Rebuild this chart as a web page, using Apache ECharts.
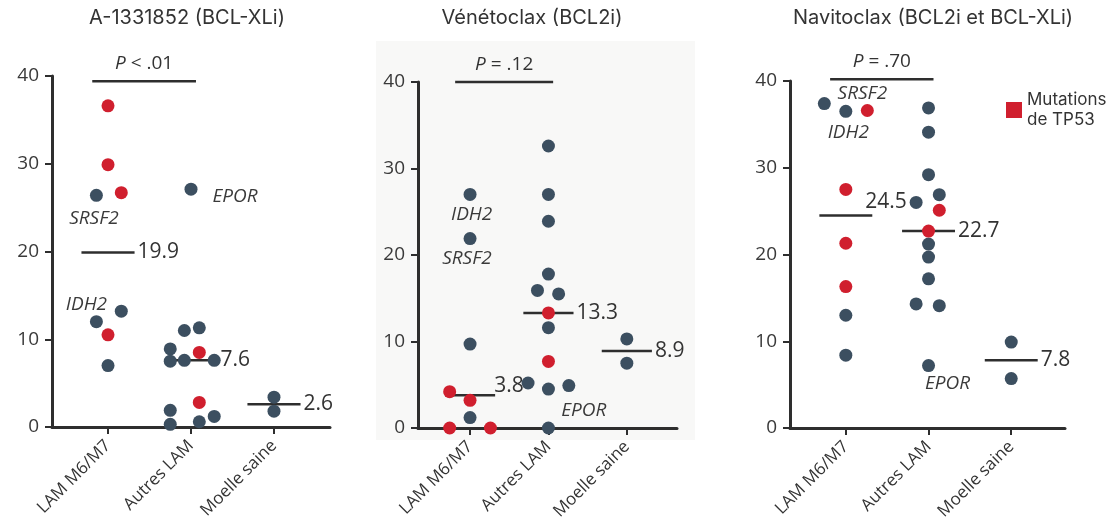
<!DOCTYPE html>
<html><head><meta charset="utf-8">
<script src="https://cdn.jsdelivr.net/npm/echarts@6/dist/echarts.min.js"></script>
<style>html,body{margin:0;padding:0;background:#fff}#c{width:1120px;height:528px}</style>
</head><body><div id="c"></div>
<script>
// ---------- DATA ----------
const categories = ['LAM M6/M7', 'Autres LAM', 'Moelle saine'];
const panelTitles = ['A-1331852 (BCL-XLi)', 'Vénétoclax (BCL2i)', 'Navitoclax (BCL2i et BCL-XLi)'];
const legendName = 'Mutations de TP53';

// Panel 1 : A-1331852  (wt = sans mutation TP53, mut = mutation TP53)
const a133_wt_cat = [0, 0, 0, 0, 1, 1, 1, 1, 1, 1, 1, 1, 1, 1, 1, 2, 2];
const a133_wt_val = [26.4, 13.2, 12.0, 7.0, 27.1, 11.0, 11.3, 8.9, 7.5, 7.6, 7.6, 1.9, 0.3, 0.6, 1.2, 3.4, 1.8];
const a133_wt_jit = [-0.14, 0.16, -0.14, 0, 0, -0.08, 0.1, -0.25, -0.25, -0.08, 0.28, -0.25, -0.25, 0.1, 0.28, 0, 0];
const a133_mut_cat = [0, 0, 0, 0, 1, 1];
const a133_mut_val = [36.6, 29.9, 26.7, 10.5, 8.5, 2.8];
const a133_mut_jit = [0, 0, 0.16, 0, 0.1, 0.1];
const a133_medians = [19.9, 7.6, 2.6];

// Panel 2 : Vénétoclax
const ven_wt_cat = [0, 0, 0, 0, 1, 1, 1, 1, 1, 1, 1, 1, 1, 1, 1, 2, 2];
const ven_wt_val = [27.0, 21.9, 9.7, 1.2, 32.6, 27.0, 23.9, 17.8, 15.9, 15.5, 11.6, 5.2, 4.5, 4.9, 0.0, 10.3, 7.5];
const ven_wt_jit = [0, 0, 0, 0, 0, 0, 0, 0, -0.14, 0.13, 0, -0.26, 0, 0.26, 0, 0, 0];
const ven_mut_cat = [0, 0, 0, 0, 1, 1];
const ven_mut_val = [4.2, 3.2, 0.0, 0.0, 13.3, 7.7];
const ven_mut_jit = [-0.26, 0, -0.26, 0.26, 0, 0];
const ven_medians = [3.8, 13.3, 8.9];

// Panel 3 : Navitoclax
const nav_wt_cat = [0, 0, 0, 0, 1, 1, 1, 1, 1, 1, 1, 1, 1, 1, 1, 2, 2];
const nav_wt_val = [37.4, 36.5, 13.0, 8.4, 36.9, 34.1, 29.2, 26.9, 26.0, 21.2, 19.7, 17.2, 14.3, 14.1, 7.2, 9.9, 5.7];
const nav_wt_jit = [-0.26, 0, 0, 0, 0, 0, 0, 0.13, -0.15, 0, 0, 0, -0.15, 0.13, 0, 0, 0];
const nav_mut_cat = [0, 0, 0, 0, 1, 1];
const nav_mut_val = [36.6, 27.5, 21.3, 16.3, 25.1, 22.7];
const nav_mut_jit = [0.26, 0, 0, 0, 0.13, 0];
const nav_medians = [24.5, 22.7, 7.8];

// P values (comparison LAM M6/M7 vs Autres LAM)
const pValueText = ['< .01', '= .12', '= .70'];
const pBracketY = [39.4, 40.0, 40.2];

// Gene annotations (text, x in category units, y value)
const a133_genes = ['SRSF2', 'IDH2', 'EPOR'];
const a133_gene_x = [-0.17, -0.26, 1.53];
const a133_gene_y = [23.8, 13.9, 26.3];
const ven_genes = ['IDH2', 'SRSF2', 'EPOR'];
const ven_gene_x = [0.02, -0.04, 1.45];
const ven_gene_y = [24.7, 19.6, 2.0];
const nav_genes = ['SRSF2', 'IDH2', 'EPOR'];
const nav_gene_x = [0.2, 0.03, 1.23];
const nav_gene_y = [38.6, 34.0, 5.1];

// ---------- LAYOUT / STYLE ----------
const BLUE = '#3c4f60', RED = '#d01f2e', INK = '#333333';
const FONT = '"Open Sans", sans-serif';
const TITLE_FONT = 'Inter, "Open Sans", sans-serif';
const grids = [
  {left: 52, top: 76, width: 278, height: 351, xmin: -0.675, xmax: 2.675},
  {left: 418, top: 82, width: 259, height: 346, xmin: -0.664, xmax: 2.64},
  {left: 790, top: 81, width: 275, height: 347, xmin: -0.675, xmax: 2.65}
];
const titleCenters = [187, 532, 933];
const medianHalf = 0.32;
const medianNudge = [[[0,0],[0,0],[0,0]], [[-4,-9],[0,0],[0,0]], [[-10,-13],[0,0],[0,0]]];

const panels = [
  {wt: [a133_wt_cat, a133_wt_val, a133_wt_jit], mut: [a133_mut_cat, a133_mut_val, a133_mut_jit], med: a133_medians, genes: [a133_genes, a133_gene_x, a133_gene_y]},
  {wt: [ven_wt_cat, ven_wt_val, ven_wt_jit], mut: [ven_mut_cat, ven_mut_val, ven_mut_jit], med: ven_medians, genes: [ven_genes, ven_gene_x, ven_gene_y]},
  {wt: [nav_wt_cat, nav_wt_val, nav_wt_jit], mut: [nav_mut_cat, nav_mut_val, nav_mut_jit], med: nav_medians, genes: [nav_genes, nav_gene_x, nav_gene_y]}
];

function pts(arr) { return arr[1].map((v, i) => [arr[0][i] + arr[2][i], v]); }

const option = {
  animation: false,
  backgroundColor: '#ffffff',
  textStyle: {fontFamily: FONT},
  legend: {
    data: [legendName], left: 1001, top: 85, icon: 'rect', itemWidth: 16, itemHeight: 16,
    selectedMode: false, formatter: () => 'Mutations\nde TP53',
    textStyle: {fontSize: 17, color: INK, fontFamily: TITLE_FONT, lineHeight: 20}
  },
  grid: grids.map(g => ({left: g.left, top: g.top, width: g.width, height: g.height, containLabel: false})),
  xAxis: grids.map((g, i) => ({
    type: 'value', gridIndex: i, min: g.xmin, max: g.xmax,
    splitLine: {show: false},
    axisLine: {show: true, onZero: false, lineStyle: {color: '#2e2e2e', width: 3}},
    axisTick: {show: true, customValues: [0, 1, 2], length: 7, lineStyle: {color: '#2e2e2e', width: 2}},
    axisLabel: {customValues: [0, 1, 2], formatter: v => categories[Math.round(v)], rotate: 45,
      fontSize: 17, color: INK, margin: 16}
  })),
  yAxis: grids.map((g, i) => ({
    type: 'value', gridIndex: i, min: 0, max: 40, interval: 10,
    splitLine: {show: false},
    axisLine: {show: true, onZero: false, lineStyle: {color: '#2e2e2e', width: 3}},
    axisTick: {show: true, length: 7, lineStyle: {color: '#2e2e2e', width: 2}},
    axisLabel: {fontSize: 19, color: '#3a3a3a', margin: 13}
  })),
  graphic: [
    {type: 'rect', left: 376, top: 41, z: -10, silent: true, shape: {width: 319, height: 399}, style: {fill: '#f8f8f7'}}
  ].concat(panelTitles.map((t, i) => ({
    type: 'text', x: titleCenters[i], y: 18, z: 10,
    style: {text: t, fill: INK, fontSize: 20, fontFamily: TITLE_FONT, textAlign: 'center', textVerticalAlign: 'middle', align: 'center', verticalAlign: 'middle'}
  }))),
  series: []
};

panels.forEach((p, i) => {
  // median lines + labels
  option.series.push({
    type: 'custom', xAxisIndex: i, yAxisIndex: i, z: 3, clip: false, silent: true,
    data: p.med.map((m, c) => [c, m]),
    renderItem: (params, api) => {
      const c = api.value(0), m = api.value(1);
      const a = api.coord([c - medianHalf, m]), b = api.coord([c + medianHalf, m]);
      const n = medianNudge[i][params.dataIndex];
      return {type: 'group', children: [
        {type: 'line', shape: {x1: a[0], y1: a[1], x2: b[0], y2: b[1]}, style: {stroke: '#2e2e2e', lineWidth: 2.5}},
        {type: 'text', x: b[0] + 3 + n[0], y: b[1] + n[1],
          style: {text: m.toFixed(1), fill: INK, fontSize: 21, fontFamily: FONT, align: 'left', verticalAlign: 'middle'}}
      ]};
    }
  });
  // P bracket
  option.series.push({
    type: 'custom', xAxisIndex: i, yAxisIndex: i, z: 3, clip: false, silent: true,
    data: [[-0.19, 1.06, pBracketY[i]]],
    renderItem: (params, api) => {
      const a = api.coord([api.value(0), api.value(2)]), b = api.coord([api.value(1), api.value(2)]);
      return {type: 'group', children: [
        {type: 'line', shape: {x1: a[0], y1: a[1], x2: b[0], y2: b[1]}, style: {stroke: '#2e2e2e', lineWidth: 2.5}},
        {type: 'text', x: (a[0] + b[0]) / 2, y: a[1] - 8,
          style: {text: '{i|P} ' + pValueText[i], fill: INK, fontSize: 19, fontFamily: FONT, align: 'center', verticalAlign: 'bottom',
            rich: {i: {fontStyle: 'italic', fontSize: 19, fontFamily: FONT, fill: INK}}}}
      ]};
    }
  });
  // gene labels
  option.series.push({
    type: 'custom', xAxisIndex: i, yAxisIndex: i, z: 3, clip: false, silent: true,
    data: p.genes[0].map((g, k) => [p.genes[1][k], p.genes[2][k]]),
    renderItem: (params, api) => {
      const q = api.coord([api.value(0), api.value(1)]);
      return {type: 'text', x: q[0], y: q[1],
        style: {text: p.genes[0][params.dataIndex], fill: '#3a3a3a', fontSize: 19, fontStyle: 'italic', fontFamily: FONT, align: 'center', verticalAlign: 'middle'}};
    }
  });
  // points
  option.series.push({
    name: 'Sans mutation', type: 'scatter', xAxisIndex: i, yAxisIndex: i, z: 5, clip: false,
    symbolSize: 13, itemStyle: {color: BLUE, opacity: 1}, data: pts(p.wt)
  });
  option.series.push({
    name: legendName, type: 'scatter', xAxisIndex: i, yAxisIndex: i, z: 5, clip: false,
    symbolSize: 13, itemStyle: {color: RED, opacity: 1}, data: pts(p.mut)
  });
});

const chart = echarts.init(document.getElementById('c'), null, {renderer: 'canvas'});
chart.setOption(option);
</script>
</body></html>
